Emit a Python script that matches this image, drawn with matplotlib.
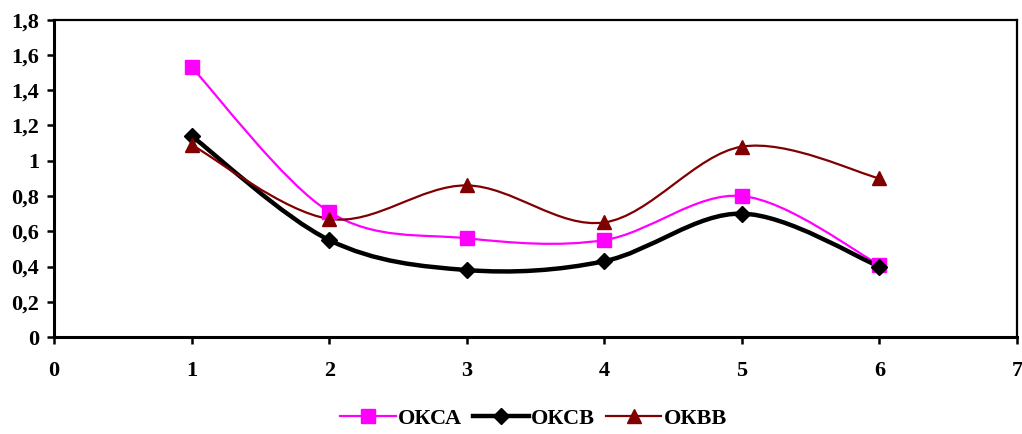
import matplotlib.pyplot as plt
from matplotlib.path import Path
from matplotlib.patches import PathPatch
from matplotlib.lines import Line2D

x = [1, 2, 3, 4, 5, 6]
okca = [1.53, 0.71, 0.56, 0.55, 0.80, 0.41]
okcb = [1.14, 0.55, 0.38, 0.43, 0.70, 0.40]
okbb = [1.09, 0.67, 0.86, 0.65, 1.08, 0.90]

yticks = [0, 0.2, 0.4, 0.6, 0.8, 1, 1.2, 1.4, 1.6, 1.8]
ytick_labels = ["0", "0,2", "0,4", "0,6", "0,8", "1", "1,2", "1,4", "1,6", "1,8"]
xticks = [0, 1, 2, 3, 4, 5, 6, 7]

plt.rcParams["font.family"] = ["Liberation Serif", "DejaVu Serif"]
plt.rcParams["font.weight"] = "bold"


def smooth_path(xs, ys):
    # Excel-like smoothed line: cubic Bezier segments, Catmull-Rom control points
    n = len(xs)
    verts = [(xs[0], ys[0])]
    codes = [Path.MOVETO]
    for i in range(n - 1):
        x0, y0 = (xs[i - 1], ys[i - 1]) if i > 0 else (xs[i], ys[i])
        x1, y1 = xs[i], ys[i]
        x2, y2 = xs[i + 1], ys[i + 1]
        x3, y3 = (xs[i + 2], ys[i + 2]) if i + 2 < n else (x2, y2)
        c1 = (x1 + (x2 - x0) / 6, y1 + (y2 - y0) / 6)
        c2 = (x2 - (x3 - x1) / 6, y2 - (y3 - y1) / 6)
        verts += [c1, c2, (x2, y2)]
        codes += [Path.CURVE4] * 3
    return Path(verts, codes)


series = [
    ("ОКСА", okca, "#FF00FF", 1.6, "s", 10),
    ("ОКСВ", okcb, "black", 3.2, "D", 8),
    ("ОКВВ", okbb, "#800000", 1.6, "^", 10),
]

fig = plt.figure(figsize=(10.22, 4.34), dpi=100)
ax = fig.add_axes([0.053, 0.2235, 0.942, 0.731])

handles = []
for name, ys, color, lw, marker, ms in series:
    ax.add_patch(PathPatch(smooth_path(x, ys), facecolor="none",
                           edgecolor=color, linewidth=lw, zorder=2))
    ax.plot(x, ys, linestyle="none", marker=marker, markersize=ms,
            color=color, zorder=3)
    handles.append(Line2D([], [], color=color, linewidth=lw, marker=marker,
                          markersize=ms, label=name))

ax.set_xlim(0, 7)
ax.set_ylim(0, 1.8)
ax.set_xticks(xticks)
ax.set_yticks(yticks)
ax.set_yticklabels(ytick_labels)
ax.tick_params(axis="both", labelsize=16, width=1.8, length=5, direction="out")
ax.tick_params(axis="x", pad=12)
ax.tick_params(axis="y", pad=6)
for lbl in ax.get_xticklabels() + ax.get_yticklabels():
    lbl.set_fontweight("bold")

ax.spines["left"].set_linewidth(2.2)
ax.spines["bottom"].set_linewidth(2.2)
ax.spines["top"].set_linewidth(1.6)
ax.spines["right"].set_linewidth(1.6)

fig.legend(handles=handles, loc="lower center", bbox_to_anchor=(0.522, -0.035),
           ncol=3, frameon=False, handlelength=2.5, columnspacing=0.5,
           handletextpad=0.1, prop={"size": 16, "weight": "bold"})

fig.savefig("out.png", dpi=100)
plt.close(fig)
